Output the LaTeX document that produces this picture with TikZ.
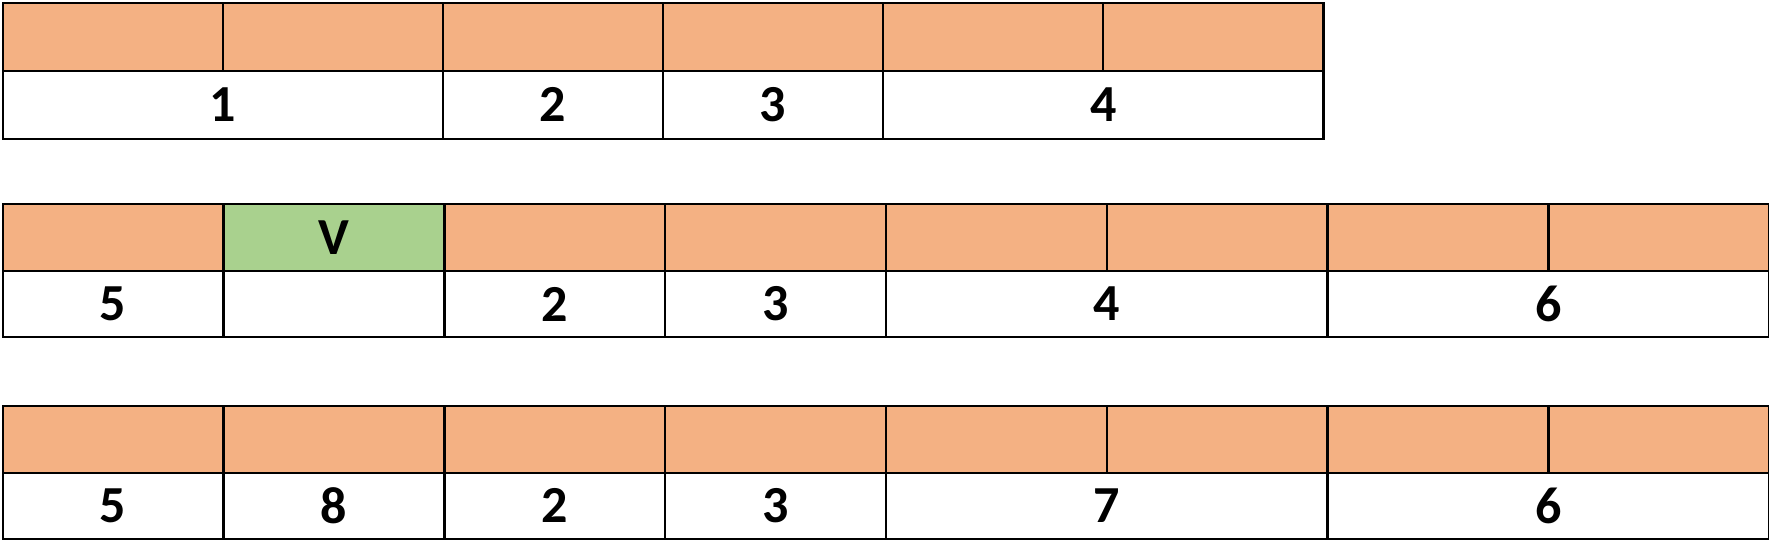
\documentclass[tikz,border=0pt]{standalone}
\usepackage{fontspec}
\setmainfont{Carlito}
\definecolor{cellorange}{HTML}{F4B183}
\definecolor{cellgreen}{HTML}{A9D18E}
\begin{document}
\begin{tikzpicture}[x=1pt,y=-1pt,
  cell/.style={draw=black,line width=2.4pt,rectangle,inner sep=0pt,anchor=north west,
    font=\fontsize{52}{60}\selectfont\bfseries},
  topcell/.style={cell,fill=cellorange},
  greencell/.style={cell,fill=cellgreen},
  botcell/.style={cell,fill=white}]
\useasboundingbox (0,0) rectangle (1769,539);
% ---- row 1 ----
\foreach \i in {1,...,6}
  \node[topcell,minimum width=220.1pt,minimum height=68pt] (a\i) at ({1.5+(\i-1)*220.1},1.5) {};
\node[botcell,minimum width=440.2pt,minimum height=68pt] (b1) at (1.5,69.5) {1};
\node[botcell,minimum width=220.1pt,minimum height=68pt] (b2) at (441.7,69.5) {2};
\node[botcell,minimum width=220.1pt,minimum height=68pt] (b3) at (661.8,69.5) {3};
\node[botcell,minimum width=440.2pt,minimum height=68pt] (b4) at (881.9,69.5) {4};
% ---- row 2 ----
\foreach \i in {1,3,4,5,6,7,8}
  \node[topcell,minimum width=220.8pt,minimum height=66.5pt] (c\i) at ({1.5+(\i-1)*220.8},203) {};
\node[greencell,minimum width=220.8pt,minimum height=66.5pt] (c2) at (222.3,203) {V};
\node[botcell,minimum width=220.8pt,minimum height=66.5pt] (d1) at (1.5,269.5) {5};
\node[botcell,minimum width=220.8pt,minimum height=66.5pt] (d2) at (222.3,269.5) {};
\node[botcell,minimum width=220.8pt,minimum height=66.5pt] (d3) at (443.1,269.5) {2};
\node[botcell,minimum width=220.8pt,minimum height=66.5pt] (d4) at (663.9,269.5) {3};
\node[botcell,minimum width=441.6pt,minimum height=66.5pt] (d5) at (884.7,269.5) {4};
\node[botcell,minimum width=441.6pt,minimum height=66.5pt] (d6) at (1326.3,269.5) {6};
% ---- row 3 ----
\foreach \i in {1,...,8}
  \node[topcell,minimum width=220.8pt,minimum height=66.5pt] (e\i) at ({1.5+(\i-1)*220.8},405) {};
\node[botcell,minimum width=220.8pt,minimum height=66pt] (f1) at (1.5,471.5) {5};
\node[botcell,minimum width=220.8pt,minimum height=66pt] (f2) at (222.3,471.5) {8};
\node[botcell,minimum width=220.8pt,minimum height=66pt] (f3) at (443.1,471.5) {2};
\node[botcell,minimum width=220.8pt,minimum height=66pt] (f4) at (663.9,471.5) {3};
\node[botcell,minimum width=441.6pt,minimum height=66pt] (f5) at (884.7,471.5) {7};
\node[botcell,minimum width=441.6pt,minimum height=66pt] (f6) at (1326.3,471.5) {6};
\end{tikzpicture}
\end{document}
